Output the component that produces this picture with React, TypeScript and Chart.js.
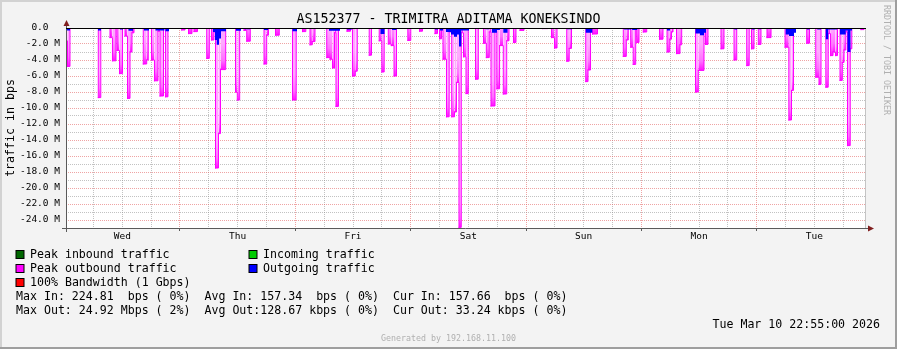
import React, { useEffect, useRef } from 'react';
import { Chart, registerables } from 'chart.js';

Chart.register(...registerables);

const FONT = '"DejaVu Sans Mono", monospace';

const chartTitle = 'AS152377 - TRIMITRA ADITAMA KONEKSINDO';
const yAxisTitle = 'traffic in bps';
const dayNames = ['Wed', 'Thu', 'Fri', 'Sat', 'Sun', 'Mon', 'Tue'];
const gridHoursOfDay = [0, 6, 12, 18];
const xStartHour = 0.28;
const xEndHour = 166.74;
const yMinMbps = -25;
const yMaxMbps = 0;

// Peak outbound traffic (Mbps), step values starting at each hour (hours since Wed 00:00)
const peakOutHours = [
  0.28, 0.59, 1.11, 7.0, 7.52, 9.43, 9.95, 10.68, 10.89, 11.41, 12.04,
  12.56, 13.08, 13.6, 14.01, 14.43, 16.36, 17.07, 17.4, 18.07, 18.69, 19.42, 19.84, 20.57,
  20.98, 21.5, 24.35, 25.04, 25.77, 26.5, 26.91, 27.64, 29.56, 30.1,
  30.55, 31.07, 31.39, 32.01, 32.43, 33.51, 35.55, 35.92, 36.42, 37.32, 37.88, 38.63,
  41.48, 42.04, 42.41, 43.87, 44.66, 47.41, 48.18, 49.49, 50.18, 51.05, 51.53, 52.09,
  54.53, 55.21, 55.73, 56.15, 56.46, 56.98, 58.75, 59.48, 59.89, 60.48, 60.89,
  63.37, 63.85, 65.45, 65.99, 66.49, 67.34, 67.97, 68.53, 69.05, 71.4, 72.02,
  73.84, 74.46, 77.06, 77.58, 78.0, 78.41,
  78.72, 79.45, 80.01, 80.53, 81.12, 81.53, 82.05, 82.53, 82.99, 83.51, 83.99,
  85.49, 86.07, 87.15, 87.74, 88.36, 88.71, 89.54, 89.92, 90.5, 91.27, 91.98, 92.46,
  93.39, 93.91, 94.75, 95.58, 99.43, 100.57, 101.3, 101.93, 102.45,
  104.47, 104.99, 105.46, 108.42, 108.9, 109.42, 109.83, 110.87,
  116.24, 116.87, 117.28, 117.78, 118.3, 118.82, 119.03, 119.51, 120.4, 121.11,
  123.77, 124.5, 125.34, 125.92, 126.27, 126.58, 127.31, 128.04, 128.39,
  131.26, 131.85, 133.03, 133.35, 133.86, 136.57, 137.19, 139.28, 139.84,
  141.92, 142.44, 142.92, 143.44, 144.33, 144.89, 146.14, 146.98,
  149.89, 150.68, 151.24, 151.66, 154.4, 154.99, 156.28, 156.96, 157.38,
  158.38, 158.88, 159.36, 159.88, 160.4, 160.81,
  161.33, 161.81, 162.17, 162.54, 162.89, 163.46, 163.79, 165.7, 166.33,
];
const peakOutMbps = [
  1.6, 4.8, 0, 8.7, 0, 1.2, 4.1, 0, 2.8, 5.7, 0,
  1.0, 8.8, 3.0, 0.6, 0, 4.5, 4.0, 0, 4.0, 6.6, 0.4, 8.5, 0,
  8.6, 0, 0.25, 0, 0.7, 0, 0.45, 0, 3.8, 0,
  1.5, 0.5, 17.5, 13.2, 5.2, 0, 8.0, 9.0, 0, 0.3, 1.65, 0,
  4.5, 0.9, 0, 0.9, 0, 9.0, 0, 0.45, 0, 2.1, 1.7, 0,
  3.7, 3.9, 5.0, 0.6, 9.8, 0, 0.4, 0, 6.0, 5.4, 0,
  3.4, 0, 1.6, 5.5, 0, 2.0, 2.2, 6.0, 0, 1.55, 0,
  0.4, 0, 0.7, 0, 1.35, 0,
  3.9, 11.1, 0.5, 11.1, 10.5, 6.8, 24.92, 0.6, 3.6, 8.2, 0,
  6.4, 0, 1.9, 3.7, 0.5, 9.75, 0.4, 7.6, 2.2, 8.25, 1.6, 0,
  1.8, 0, 0.3, 0, 0.08, 0, 1.2, 2.5, 0,
  4.15, 2.55, 0, 6.7, 5.25, 0, 0.75, 0,
  3.55, 1.5, 0, 2.4, 4.55, 0, 1.8, 0, 0.5, 0,
  1.4, 0, 3.0, 1.4, 0.5, 0, 3.2, 2.1, 0,
  8.0, 5.3, 0, 2.05, 0, 2.6, 0, 4.0, 0,
  4.7, 0, 2.6, 0, 2.05, 0, 1.2, 0,
  2.4, 11.5, 7.8, 0, 1.9, 0, 6.15, 7.05, 0,
  7.4, 0.7, 3.45, 3.0, 3.45, 0,
  6.55, 4.3, 2.75, 0.5, 14.7, 2.6, 0, 0.2, 0,
];

// Outgoing traffic (Mbps)
const avgOutHours = [
  0.38, 1.11, 6.94, 7.56, 10.06, 10.68, 11.52, 12.14, 13.28, 14.22, 16.51, 17.55,
  18.9, 20.77, 20.98, 21.71, 30.87, 31.28, 31.64, 32.12, 32.53, 33.57,
  35.65, 36.69, 37.53, 38.57, 41.48, 42.31, 47.41, 48.35, 49.49, 50.22,
  55.0, 57.29, 58.75, 59.79, 63.33, 63.85, 65.72, 66.55, 68.11, 69.05,
  77.06, 77.68, 78.1, 78.72, 79.35, 80.39, 81.01, 81.64, 82.05, 82.53, 84.14,
  87.6, 88.28, 88.91, 89.95, 90.57, 91.27, 92.15, 104.53, 105.57, 108.42, 109.79,
  116.41, 117.87, 118.08, 119.12, 125.34, 125.97, 127.42, 128.25,
  131.26, 132.2, 133.03, 133.45, 136.78, 137.19, 139.38, 139.9, 141.99, 142.4,
  143.03, 143.55, 144.47, 144.89, 150.03, 150.72, 151.76, 152.18,
  154.47, 154.99, 156.59, 157.38, 158.38, 158.88, 160.71,
  161.33, 162.52, 162.89, 163.51, 163.83,
];
const avgOutMbps = [
  0.3, 0, 0.3, 0, 0.12, 0, 0.2, 0, 0.35, 0, 0.3, 0,
  0.3, 0, 0.4, 0, 0.5, 1.5, 2.1, 1.3, 0.4, 0,
  0.35, 0, 0.15, 0, 0.25, 0, 0.4, 0, 0.1, 0,
  0.35, 0, 0.2, 0, 0.1, 0, 0.75, 0, 0.25, 0,
  0.2, 0, 0.3, 0, 0.5, 0.8, 1.1, 0.8, 2.3, 0.3, 0,
  0.15, 0, 0.6, 0.25, 0, 0.6, 0, 0.15, 0, 0.6, 0,
  0.2, 0.1, 0.25, 0, 0.3, 0, 0.1, 0,
  0.7, 0.9, 0.6, 0, 0.1, 0, 0.2, 0, 0.1, 0,
  0.2, 0, 0.15, 0, 0.8, 1.0, 0.6, 0,
  0.2, 0, 0.2, 0, 1.4, 0.2, 0,
  0.8, 0.3, 3.0, 0.3, 0,
];

const legendLabels = ['Peak inbound traffic', 'Incoming traffic', 'Peak outbound traffic', 'Outgoing traffic', '100% Bandwidth (1 Gbps)'];
const legendColors = ['#006600', '#00cc00', '#ff00ff', '#0000ff', '#ff0000'];
const statLines = [
  'Max In: 224.81  bps ( 0%)  Avg In: 157.34  bps ( 0%)  Cur In: 157.66  bps ( 0%)',
  'Max Out: 24.92 Mbps ( 2%)  Avg Out:128.67 kbps ( 0%)  Cur Out: 33.24 kbps ( 0%)',
];
const dateText = 'Tue Mar 10 22:55:00 2026';
const watermarkText = 'RRDTOOL / TOBI OETIKER';
const generatedText = 'Generated by 192.168.11.100';

const MAJOR = 'rgba(225,90,90,0.55)';
const MINOR = 'rgba(143,143,143,0.55)';

const xGridHours: number[] = [];
dayNames.forEach((_, d) => gridHoursOfDay.forEach((q) => {
  const h = d * 24 + q;
  if (h > xStartHour && h < xEndHour) xGridHours.push(h);
}));
const yGridMbps: number[] = [];
for (let m = yMinMbps; m <= yMaxMbps; m++) yGridMbps.push(m);

const rrdPlugin = {
  id: 'rrdDecor',
  beforeDraw(chart: any) {
    const { ctx, chartArea: a, width, height } = chart;
    ctx.save();
    ctx.fillStyle = '#f3f3f3';
    ctx.fillRect(0, 0, width, height);
    ctx.fillStyle = '#d2d2d2';
    ctx.fillRect(0, 0, width, 2);
    ctx.fillRect(0, 0, 2, height);
    ctx.fillStyle = '#9e9e9e';
    ctx.fillRect(0, height - 2, width, 2);
    ctx.fillRect(width - 2, 0, 2, height);
    ctx.fillStyle = '#ffffff';
    ctx.fillRect(a.left, a.top, a.right - a.left, a.bottom - a.top);
    ctx.restore();
  },
  afterDatasetsDraw(chart: any) {
    const { ctx, chartArea: a } = chart;
    const y0 = chart.scales.y.getPixelForValue(0);
    ctx.save();
    ctx.lineWidth = 1;
    ctx.strokeStyle = '#c4c4c4';
    ctx.beginPath();
    ctx.moveTo(a.right - 0.5, a.top);
    ctx.lineTo(a.right - 0.5, a.bottom);
    ctx.stroke();
    ctx.strokeStyle = '#5a5a5a';
    ctx.beginPath();
    ctx.moveTo(a.left - 4, a.bottom + 0.5);
    ctx.lineTo(a.right + 3, a.bottom + 0.5);
    ctx.moveTo(a.left + 0.5, a.bottom + 4);
    ctx.lineTo(a.left + 0.5, a.top - 5);
    ctx.stroke();
    ctx.strokeStyle = '#000000';
    ctx.beginPath();
    ctx.moveTo(a.left, y0 + 0.5);
    ctx.lineTo(a.right, y0 + 0.5);
    ctx.stroke();
    ctx.fillStyle = 'rgb(128,31,31)';
    ctx.beginPath();
    ctx.moveTo(a.right + 2, a.bottom - 2.5);
    ctx.lineTo(a.right + 2, a.bottom + 3.5);
    ctx.lineTo(a.right + 8, a.bottom + 0.5);
    ctx.closePath();
    ctx.fill();
    ctx.beginPath();
    ctx.moveTo(a.left - 2.5, a.top - 2);
    ctx.lineTo(a.left + 3.5, a.top - 2);
    ctx.lineTo(a.left + 0.5, a.top - 8);
    ctx.closePath();
    ctx.fill();
    ctx.restore();
  },
  afterDraw(chart: any) {
    const { ctx, width, chartArea: a } = chart;
    ctx.save();
    ctx.fillStyle = '#000';
    ctx.textBaseline = 'middle';
    ctx.font = `13.3px ${FONT}`;
    ctx.textAlign = 'center';
    ctx.fillText(chartTitle, width / 2, 19.5);

    ctx.font = `11.6px ${FONT}`;
    ctx.save();
    ctx.translate(11, (a.top + a.bottom) / 2);
    ctx.rotate(-Math.PI / 2);
    ctx.fillText(yAxisTitle, 0, 0);
    ctx.restore();

    ctx.textAlign = 'left';
    legendLabels.forEach((label, i) => {
      const col = i % 2;
      const row = Math.floor(i / 2);
      const bx = col === 0 ? 16 : 249;
      const cy = 254.5 + row * 14;
      ctx.fillStyle = '#000';
      ctx.fillRect(bx - 0.5, cy - 4.5, 9, 9);
      ctx.fillStyle = legendColors[i];
      ctx.fillRect(bx + 0.5, cy - 3.5, 7, 7);
      ctx.fillStyle = '#000';
      ctx.fillText(label, bx + 14, cy);
    });
    statLines.forEach((s, i) => ctx.fillText(s, 16, 296.5 + i * 14));
    ctx.textAlign = 'right';
    ctx.fillText(dateText, 880, 324.5);

    ctx.fillStyle = '#b0b0b0';
    ctx.font = `8.3px ${FONT}`;
    ctx.textAlign = 'center';
    ctx.fillText(generatedText, width / 2, 339);
    ctx.save();
    ctx.translate(886.5, 60);
    ctx.rotate(Math.PI / 2);
    ctx.fillText(watermarkText, 0, 0);
    ctx.restore();
    ctx.restore();
  },
};

const peakSegmentFill = (c: any) => {
  const y = c.p0.y;
  const g = c.chart.ctx.createLinearGradient(0, y, 0, y - 26);
  g.addColorStop(0, '#ff10ff');
  g.addColorStop(0.35, '#ff70ff');
  g.addColorStop(1, '#ffa8ff');
  return g;
};

export default function App() {
  const ref = useRef<HTMLCanvasElement>(null);
  useEffect(() => {
    document.body.style.margin = '0';
    Chart.defaults.font.family = FONT;
    const canvas = ref.current as HTMLCanvasElement;
    const chart = new Chart(canvas, {
      type: 'line',
      data: {
        datasets: [
          {
            label: 'Outgoing traffic',
            data: avgOutHours.map((h, i) => ({ x: h, y: -avgOutMbps[i] * 1e6 })),
            stepped: true,
            fill: 'origin',
            backgroundColor: '#0000ff',
            borderWidth: 0,
            pointRadius: 0,
          },
          {
            label: 'Peak outbound traffic',
            data: peakOutHours.map((h, i) => ({ x: h, y: -peakOutMbps[i] * 1e6 })),
            stepped: true,
            fill: 'origin',
            backgroundColor: '#ff99ff',
            borderColor: '#ff00ff',
            borderWidth: 1,
            borderCapStyle: 'square',
            pointRadius: 0,
            segment: { backgroundColor: peakSegmentFill },
          },
        ],
      } as any,
      options: {
        animation: false,
        responsive: false,
        devicePixelRatio: 1,
        events: [],
        layout: { padding: { left: 0, top: 28, right: 31, bottom: 0 } },
        plugins: { legend: { display: false }, tooltip: { enabled: false }, title: { display: false } },
        scales: {
          x: {
            type: 'linear',
            min: xStartHour,
            max: xEndHour,
            afterBuildTicks: (s: any) => { s.ticks = xGridHours.map((v) => ({ value: v })); },
            afterFit: (s: any) => { s.height = 121; },
            grid: {
              color: (c: any) => (c.tick && Math.round(c.tick.value) % 24 === 0 ? MAJOR : MINOR),
              lineWidth: 1,
              drawTicks: true,
              tickLength: 3,
              tickColor: (c: any) => (c.tick && Math.round(c.tick.value) % 24 === 0 ? '#5a5a5a' : 'rgba(0,0,0,0)'),
            },
            border: { display: false, dash: [1, 1] },
            ticks: {
              autoSkip: false,
              maxRotation: 0,
              padding: 0,
              color: '#000',
              font: { family: FONT, size: 9.5 },
              callback: (v: any) => {
                const h = Math.round(Number(v));
                return h % 24 === 12 ? dayNames[Math.floor(h / 24)] : '';
              },
            },
          },
          y: {
            type: 'linear',
            min: yMinMbps * 1e6,
            max: yMaxMbps * 1e6,
            afterBuildTicks: (s: any) => { s.ticks = yGridMbps.map((m) => ({ value: m * 1e6 })); },
            afterFit: (s: any) => { s.width = 66; },
            grid: {
              color: (c: any) => (c.tick && Math.round(c.tick.value / 1e6) % 2 === 0 ? MAJOR : MINOR),
              lineWidth: 1,
              drawTicks: false,
            },
            border: { display: false, dash: [1, 1] },
            ticks: {
              autoSkip: false,
              padding: 6,
              color: '#000',
              font: { family: FONT, size: 9.5 },
              callback: (v: any) => {
                const m = Math.round(Number(v) / 1e6);
                if (m % 2 !== 0) return '';
                if (m === 0) return '0.0  ';
                return `${m.toFixed(1)} M`;
              },
            },
          },
        },
      } as any,
      plugins: [rrdPlugin],
    });
    return () => chart.destroy();
  }, []);
  return (
    <div style={{ width: 897, height: 349 }}>
      <canvas ref={ref} width={897} height={349} style={{ display: 'block', width: 897, height: 349 }} />
    </div>
  );
}
